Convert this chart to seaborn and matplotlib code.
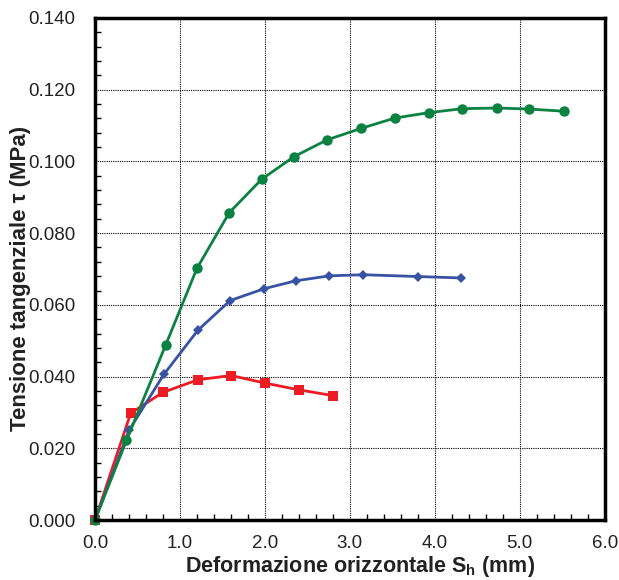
import matplotlib
matplotlib.use("Agg")
import matplotlib.pyplot as plt
import seaborn as sns
import pandas as pd
from matplotlib.ticker import MultipleLocator, FormatStrFormatter

# dati (deformazione in mm, tensione in MPa)
x_verde = [0.0, 0.37, 0.83, 1.20, 1.58, 1.96, 2.34, 2.73, 3.13, 3.53, 3.93, 4.32, 4.73, 5.11, 5.52]
y_verde = [0.0, 0.0222, 0.0487, 0.0702, 0.0857, 0.0950, 0.1013, 0.1060, 0.1092, 0.1121, 0.1136,
           0.1147, 0.1149, 0.1146, 0.1140]

x_blu = [0.0, 0.40, 0.81, 1.21, 1.59, 1.99, 2.36, 2.76, 3.16, 3.80, 4.31]
y_blu = [0.0, 0.0250, 0.0406, 0.0529, 0.0612, 0.0645, 0.0667, 0.0681, 0.0684, 0.0679, 0.0675]

x_rosso = [0.0, 0.42, 0.80, 1.21, 1.60, 2.00, 2.40, 2.80]
y_rosso = [0.0, 0.0298, 0.0356, 0.0391, 0.0403, 0.0382, 0.0363, 0.0347]

sns.set_style("white")
plt.rcParams['font.family'] = ['Liberation Sans', 'DejaVu Sans']
plt.rcParams['mathtext.fontset'] = 'custom'
plt.rcParams['mathtext.bf'] = 'Liberation Sans:bold'
plt.rcParams['mathtext.rm'] = 'Liberation Sans'

fig = plt.figure(figsize=(6.19, 5.8), dpi=100)
ax = fig.add_axes([0.1535, 0.1034, 0.8235, 0.8656])

serie = [
    (x_rosso, y_rosso, '#ed1c24', 's', 7),
    (x_blu, y_blu, '#3953a4', 'D', 5.5),
    (x_verde, y_verde, '#0b8241', 'o', 7.5),
]
for xs, ys, col, mk, ms in serie:
    df = pd.DataFrame({'x': xs, 'y': ys})
    sns.lineplot(data=df, x='x', y='y', ax=ax, color=col, marker=mk, markersize=ms,
                 markeredgewidth=0, linewidth=2, sort=False, clip_on=False, zorder=3)

ax.set_xlim(0, 6.0)
ax.set_ylim(0, 0.140)
ax.xaxis.set_major_locator(MultipleLocator(1.0))
ax.xaxis.set_minor_locator(MultipleLocator(0.2))
ax.yaxis.set_major_locator(MultipleLocator(0.02))
ax.yaxis.set_minor_locator(MultipleLocator(0.004))
ax.xaxis.set_major_formatter(FormatStrFormatter('%.1f'))
ax.yaxis.set_major_formatter(FormatStrFormatter('%.3f'))

ax.grid(True, which='major', color='black', linestyle=(0, (1, 1)), linewidth=0.8)
ax.tick_params(which='both', direction='in', bottom=True, left=True, top=False, right=False,
               colors='black', labelcolor='#222222', labelsize=13.5, width=1)
ax.tick_params(which='major', length=0)
ax.tick_params(axis='x', which='major', pad=11)
ax.tick_params(axis='y', which='major', pad=14)
ax.tick_params(which='minor', length=4)

for s in ax.spines.values():
    s.set_visible(True)
    s.set_color('black')
    s.set_linewidth(2.5)
    s.set_zorder(4)

ax.set_xlabel('Deformazione orizzontale S$_{\\mathbf{h}}$ (mm)', fontsize=15.5, fontweight='bold',
              color='#222222')
ax.set_ylabel('Tensione tangenziale τ (MPa)', fontsize=16, fontweight='bold',
              color='#222222')
ax.xaxis.set_label_coords(0.519, -0.068)
ax.yaxis.set_label_coords(-0.125, 0.482)

fig.savefig('out.png', dpi=100)
